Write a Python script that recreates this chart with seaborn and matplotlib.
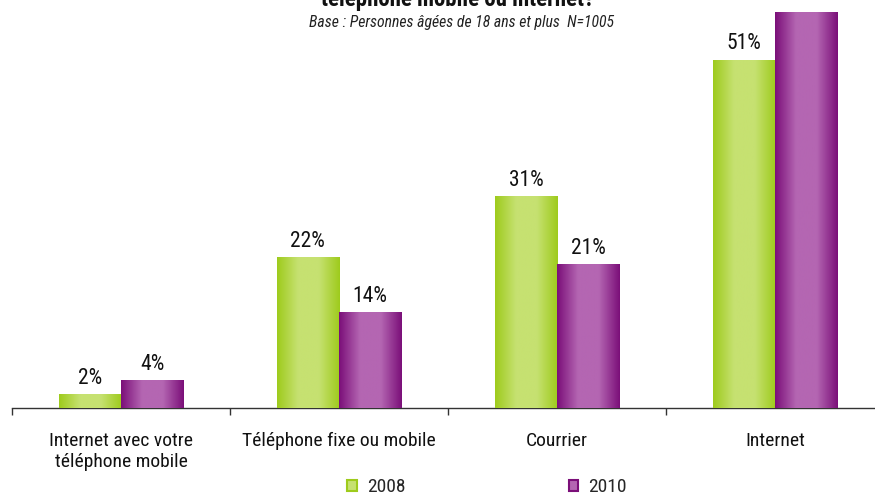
import numpy as np
import pandas as pd
import matplotlib
matplotlib.use("Agg")
import matplotlib.pyplot as plt
import seaborn as sns
from matplotlib.colors import LinearSegmentedColormap
from matplotlib.patches import Patch

# values
categories = ["Internet avec votre\ntéléphone mobile", "Téléphone fixe ou mobile", "Courrier", "Internet"]
years = ["2008", "2010"]
values_2008 = [2, 22, 31, 51]
values_2010 = [4, 14, 21, 58]

df = pd.DataFrame({
    "categorie": categories * 2,
    "annee": [years[0]] * 4 + [years[1]] * 4,
    "valeur": values_2008 + values_2010,
})

sns.set_theme(style="white")
plt.rcParams["font.family"] = ["Roboto Condensed", "Liberation Sans", "DejaVu Sans"]

colors = {"2008": ("#9ECB1C", "#C6E171"), "2010": ("#7B0F79", "#B466B2")}
YMAX = 59.8  # axes top sits on the figure top

fig = plt.figure(figsize=(8.75, 4.98), dpi=100)
ax = fig.add_axes([12 / 875, 90 / 498, 872 / 875, 408 / 498])

sns.barplot(data=df, x="categorie", y="valeur", hue="annee", hue_order=years,
            palette={y: colors[y][0] for y in years}, width=0.57, gap=0.0,
            legend=False, ax=ax, linewidth=0)

# horizontal shading on each bar
grad = np.linspace(0, 1, 128).reshape(1, -1)
for cont, yr in zip(ax.containers, years):
    dark, light = colors[yr]
    cmap = LinearSegmentedColormap.from_list(yr, [dark, light, light, dark], N=256)
    for bar in cont:
        x0, w, h = bar.get_x(), bar.get_width(), bar.get_height()
        ax.imshow(grad, extent=[x0, x0 + w, 0, h], aspect="auto", cmap=cmap, zorder=3)
        bar.set_facecolor("none")
    # labels that would land above the figure are not shown in the source
    labels = [f"{v:.0f}%" if v < 55 else "" for v in cont.datavalues]
    ax.bar_label(cont, labels=labels, padding=4, fontsize=15.5, color="#111111")

ax.set_xlim(-0.5, 3.5)
ax.set_ylim(0, YMAX)
ax.set_xlabel("")
ax.set_ylabel("")
ax.set_yticks([])
for s in ["top", "right", "left"]:
    ax.spines[s].set_visible(False)
ax.spines["bottom"].set_color("#333333")
ax.spines["bottom"].set_linewidth(1.0)
ax.set_xticks(range(4))
ax.set_xticklabels(categories, fontsize=14, linespacing=1.25)
ax.set_xticks([-0.5, 0.5, 1.5, 2.5, 3.5], minor=True)
ax.tick_params(axis="x", which="major", length=0, pad=17, colors="#111111")
ax.tick_params(axis="x", which="minor", length=5, width=1, color="#333333", direction="out", bottom=True)

fig.text(0.523, 1 - 6 / 498, "téléphone mobile ou internet?", ha="center", va="baseline",
         fontsize=16.5, fontweight="bold", color="#111111")
fig.text(0.527, 1 - 22 / 498, "Base : Personnes âgées de 18 ans et plus  N=1005", ha="center", va="center",
         fontsize=11.3, style="italic", color="#222222")

handles = [Patch(facecolor=colors[y][1], edgecolor=colors[y][0], linewidth=1.5, label=y) for y in years]
fig.legend(handles=handles, loc="center", bbox_to_anchor=(487 / 875, 11 / 498), ncol=2,
           frameon=False, fontsize=14, handlelength=0.5, handleheight=0.5,
           handletextpad=0.5, columnspacing=8.4)

fig.savefig("out.png", dpi=100)
